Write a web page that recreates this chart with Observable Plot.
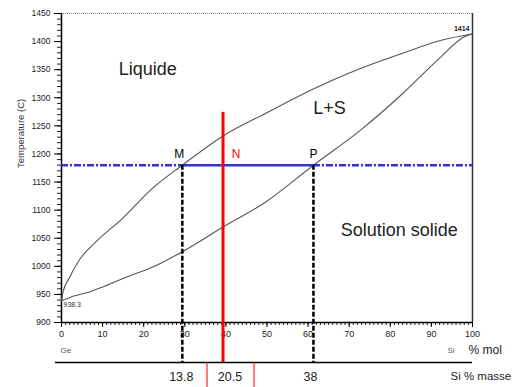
<!DOCTYPE html>
<html><head><meta charset="utf-8">
<script src="https://cdn.jsdelivr.net/npm/d3@7"></script>
<script src="https://cdn.jsdelivr.net/npm/@observablehq/plot@0.6"></script>
<style>body{margin:0;background:#fff;}</style>
</head><body><div id="chart"></div>
<script>
// Liquidus (upper curve) and solidus (lower curve), Ge–Si, x = % mol Si, T in °C
const liquidusX = [0, 0.4, 1.8, 4.2, 8.3, 14.8, 22, 29.4, 39.5, 49.6, 61.4, 72.7, 82.5, 92.2, 100];
const liquidusT = [938.3, 955, 978, 1010, 1043, 1085, 1138, 1180, 1233, 1272, 1316, 1352, 1378, 1402, 1414];
const solidusX = [0, 3, 6.6, 10, 14.8, 22.9, 29.4, 39.3, 49.6, 61.3, 72.7, 82.5, 92.2, 97.9, 100];
const solidusT = [938.3, 947, 954, 963, 978, 1001, 1026, 1070, 1114, 1180, 1242, 1304, 1372, 1408, 1414];

const xTicks = [0, 10, 20, 30, 40, 50, 60, 70, 80, 90, 100];
const yTicks = [900, 950, 1000, 1050, 1100, 1150, 1200, 1250, 1300, 1350, 1400, 1450];

const regionLabels = ["Liquide", "L+S", "Solution solide"];
const regionX = [21, 65.2, 82.2];
const regionT = [1350, 1282, 1064];

const pointNames = ["M", "N", "P"];
const pointX = [29.4, 39.3, 61.3];
const tieT = 1180;       // horizontal tie line temperature
const nTop = 1274;       // top of the red composition line
const massLabels = ["13.8", "20.5", "38"];  // Si % masse under M, N, P

const xMin = 0, xMax = 100, yMin = 900, yMax = 1450;
const geT = 938.3, siT = 1414;

const M = pointX[0], N = pointX[1], P = pointX[2];
const font = "'Liberation Sans', Arial, sans-serif";

const chart = Plot.plot({
  width: 513, height: 387,
  marginLeft: 61, marginRight: 41, marginTop: 13, marginBottom: 65,
  style: {fontFamily: font, background: "#fff", overflow: "visible"},
  x: {domain: [xMin, xMax], axis: null},
  y: {domain: [yMin, yMax], axis: null},
  marks: [
    // frame
    Plot.ruleY([yMax], {stroke: "#888", strokeWidth: 1, strokeDasharray: "1,1"}),
    Plot.ruleX([xMax], {stroke: "#333", strokeWidth: 1.5}),
    // minor ticks
    Plot.axisY({ticks: d3.range(yMin, yMax + 1, 10), tickSize: 4, text: null, stroke: "#222"}),
    Plot.axisX({ticks: d3.range(xMin, xMax + 1, 1), tickSize: 3, text: null, stroke: "#222"}),
    // major ticks
    Plot.axisY({ticks: yTicks, tickSize: 7, tickPadding: 4, fontSize: 8.5, fill: "#222", label: null, tickFormat: d => String(d)}),
    Plot.axisX({ticks: xTicks, tickSize: 5, tickPadding: 3, fontSize: 9, fill: "#222", label: null, tickFormat: d => String(d)}),
    Plot.ruleX([xMin], {stroke: "#000", strokeWidth: 1.5}),
    Plot.ruleY([yMin], {stroke: "#000", strokeWidth: 1.5}),
    Plot.text(["Temperature (C)"], {frameAnchor: "left", dx: -41, rotate: -90, fontSize: 9.5, fill: "#333"}),
    // curves
    Plot.line(liquidusT, {x: liquidusX, y: liquidusT, curve: "monotone-x", stroke: "#555", strokeWidth: 1.1}),
    Plot.line(solidusT, {x: solidusX, y: solidusT, curve: "monotone-x", stroke: "#555", strokeWidth: 1.1}),
    // tie line (blue)
    Plot.ruleY([tieT], {x1: xMin, x2: M, stroke: "#3333cc", strokeWidth: 2.5, strokeDasharray: "7,2,2,2"}),
    Plot.ruleY([tieT], {x1: P, x2: xMax, stroke: "#3333cc", strokeWidth: 2.5, strokeDasharray: "7,2,2,2"}),
    Plot.ruleY([tieT], {x1: M, x2: P, stroke: "#3333cc", strokeWidth: 2.5}),
    // dashed verticals at M and P
    Plot.ruleX([M, P], {y1: tieT, y2: yMin, insetBottom: -40, stroke: "#000", strokeWidth: 2.5, strokeDasharray: "5,2"}),
    // red composition line
    Plot.ruleX([N], {y1: nTop, y2: yMin, insetBottom: -40, stroke: "#ff0000", strokeWidth: 3}),
    // lower mass-% axis
    Plot.ruleY([yMin], {dy: 40, insetLeft: -6, stroke: "#000", strokeWidth: 1.5}),
    // red box around the N mass value
    Plot.ruleX([N], {dx: -16, insetTop: 349, insetBottom: -65, stroke: "#ff0000", strokeWidth: 1}),
    Plot.ruleX([N], {dx: 31, insetTop: 349, insetBottom: -65, stroke: "#ff0000", strokeWidth: 1}),
    // region labels
    Plot.text(regionLabels, {x: regionX, y: regionT, text: d => d, fontSize: 18, fill: "#222"}),
    // M N P labels
    Plot.text([pointNames[0]], {x: M, y: tieT, dy: -11, dx: -3, fontSize: 12, fill: "#000"}),
    Plot.text([pointNames[1]], {x: N, y: tieT, dy: -11, dx: 13, fontSize: 12, fill: "#ff0000"}),
    Plot.text([pointNames[2]], {x: P, y: tieT, dy: -11, dx: 0, fontSize: 12, fill: "#000"}),
    // end values
    Plot.text([geT], {x: xMin, y: geT, text: d => String(d), dx: 2, dy: 4, textAnchor: "start", fontSize: 7, fill: "#333"}),
    Plot.text([siT], {x: xMax, y: siT, text: d => String(d), dx: -3, dy: -5, textAnchor: "end", fontSize: 7, fontWeight: "bold", fill: "#222"}),
    // axis element labels
    Plot.text(["Ge"], {x: xMin, y: yMin, dy: 28, dx: -1, textAnchor: "start", fontSize: 8, fill: "#555"}),
    Plot.text(["Si"], {x: xMax, y: yMin, dy: 28, dx: -18, textAnchor: "end", fontSize: 7.5, fill: "#555"}),
    Plot.text(["% mol"], {x: xMax, y: yMin, dy: 28, dx: -4, textAnchor: "start", fontSize: 12, fill: "#222"}),
    Plot.text(["Si % masse"], {x: xMax, y: yMin, dy: 54, dx: -22, textAnchor: "start", fontSize: 11.5, fill: "#222"}),
    Plot.text([massLabels[0]], {x: M, y: yMin, dy: 54, dx: -1, fontSize: 12.5, fill: "#222"}),
    Plot.text([massLabels[1]], {x: N, y: yMin, dy: 54, dx: 7, fontSize: 12.5, fill: "#222"}),
    Plot.text([massLabels[2]], {x: P, y: yMin, dy: 54, dx: -3, fontSize: 12.5, fill: "#222"})
  ]
});
document.getElementById("chart").appendChild(chart);
</script>
</body></html>
